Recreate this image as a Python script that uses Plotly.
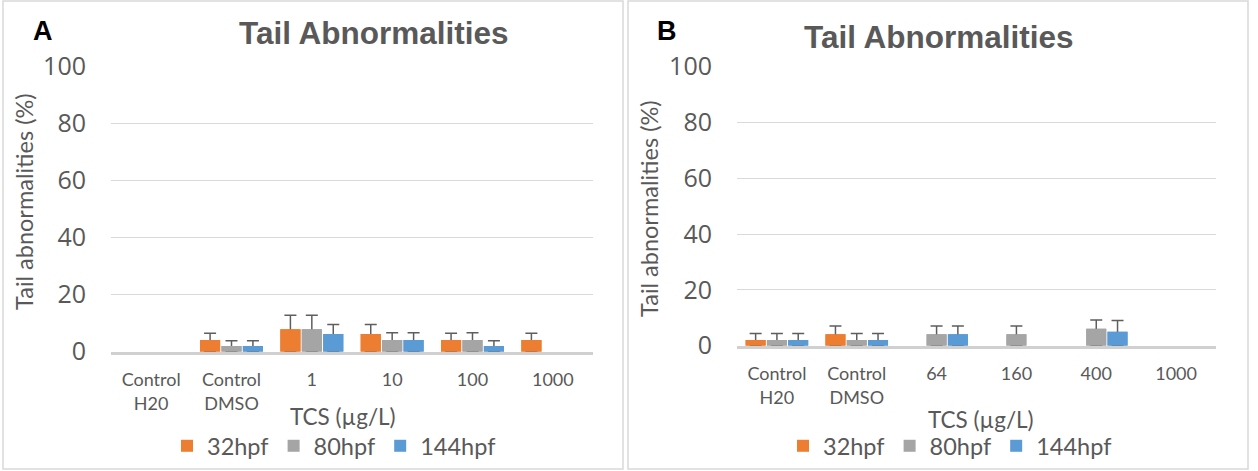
import plotly.graph_objects as go

W, H = 1258, 471

# ---------------- data ----------------
categories_a = ["Control<br>H20", "Control<br>DMSO", "1", "10", "100", "1000"]
categories_b = ["Control<br>H20", "Control<br>DMSO", "64", "160", "400", "1000"]
series_names = ["32hpf", "80hpf", "144hpf"]
series_colors = ["#ED7D31", "#A5A5A5", "#5B9BD5"]

a_32hpf = [0, 4.1, 7.9, 6.2, 4.1, 4.1]
a_32hpf_err = [None, 2.4, 4.9, 3.3, 2.4, 2.4]
a_80hpf = [0, 2.0, 7.9, 4.1, 4.1, 0]
a_80hpf_err = [None, 1.8, 4.9, 2.5, 2.5, None]
a_144hpf = [0, 2.0, 6.2, 4.1, 2.0, 0]
a_144hpf_err = [None, 1.8, 3.3, 2.5, 1.8, None]

b_32hpf = [2.0, 4.1, 0, 0, 0, 0]
b_32hpf_err = [2.4, 3.0, None, None, None, None]
b_80hpf = [2.0, 2.0, 4.1, 4.1, 6.1, 0]
b_80hpf_err = [2.4, 2.4, 3.0, 3.0, 3.1, None]
b_144hpf = [2.0, 2.0, 4.1, 0, 5.0, 0]
b_144hpf_err = [2.4, 2.4, 3.0, None, 4.0, None]

y_ticks = [0, 20, 40, 60, 80, 100]

panel_title = "Tail Abnormalities"
y_title = "Tail abnormalities (%)"
x_title = "TCS (µg/L)"

# ---------------- helpers ----------------
def px_x(x):
    return x / W

def px_y(y):
    return 1 - y / H

FONT = "Lato, 'Open Sans', sans-serif"
NFONT = "'Open Sans', Lato, sans-serif"
TFONT = "Liberation Sans, Arial, sans-serif"
TXT = "#595959"
ERR = "#5E5E5E"

fig = go.Figure()

panels = [
    ("a", categories_a, [(a_32hpf, a_32hpf_err), (a_80hpf, a_80hpf_err), (a_144hpf, a_144hpf_err)],
     "x", "y", "legend"),
    ("b", categories_b, [(b_32hpf, b_32hpf_err), (b_80hpf, b_80hpf_err), (b_144hpf, b_144hpf_err)],
     "x2", "y2", "legend2"),
]

for key, cats, series, xa, ya, leg in panels:
    for (vals, errs), name, color in zip(series, series_names, series_colors):
        grp = key + name
        # error-bar carrier (drawn first; the real bars drawn on top hide the part inside the bar)
        ex = [c for c, e in zip(cats, errs) if e is not None]
        ey = [v for v, e in zip(vals, errs) if e is not None]
        ee = [e for e in errs if e is not None]
        fig.add_trace(go.Bar(
            x=ex, y=ey, xaxis=xa, yaxis=ya, offsetgroup=grp,
            marker=dict(color=color, line=dict(width=0)),
            error_y=dict(type="data", symmetric=False, array=ee, arrayminus=ey,
                         color=ERR, thickness=1.5, width=6),
            showlegend=False, hoverinfo="skip", legend=leg,
        ))
        fig.add_trace(go.Bar(
            x=cats, y=vals, xaxis=xa, yaxis=ya, offsetgroup=grp, name=name,
            marker=dict(color=color, line=dict(width=0)),
            legend=leg,
        ))

axis_common_y = dict(
    range=[0, 100], tickvals=y_ticks, showgrid=True, gridcolor="#D9D9D9", gridwidth=1,
    zeroline=False, showline=False, ticks="", ticklabelstandoff=24,
    tickfont=dict(family=NFONT, size=25, color=TXT), automargin=False, fixedrange=True,
)
axis_common_x = dict(
    type="category", showgrid=False, zeroline=False, showline=True,
    linecolor="#D0D0D0", linewidth=3, ticks="", ticklabelstandoff=10,
    tickfont=dict(family=FONT, size=18, color=TXT), automargin=False, fixedrange=True,
)

legend_common = dict(orientation="h", xanchor="center", yanchor="middle",
                     font=dict(family=FONT, size=23.5, color=TXT), bgcolor="rgba(0,0,0,0)",
                     itemclick=False, itemdoubleclick=False)

fig.update_layout(
    width=W, height=H,
    margin=dict(l=0, r=0, t=0, b=0),
    paper_bgcolor="white", plot_bgcolor="white",
    barmode="group", bargap=0.2, bargroupgap=0.06,
    xaxis=dict(domain=[px_x(111), px_x(593)], anchor="y",
               categoryorder="array", categoryarray=categories_a, **axis_common_x),
    yaxis=dict(domain=[px_y(351.7), px_y(66)], anchor="x", **axis_common_y),
    xaxis2=dict(domain=[px_x(737), px_x(1216)], anchor="y2",
                categoryorder="array", categoryarray=categories_b, **axis_common_x),
    yaxis2=dict(domain=[px_y(345.7), px_y(66.7)], anchor="x2", **axis_common_y),
    legend=dict(x=px_x(334), y=px_y(446), **legend_common),
    legend2=dict(x=px_x(950), y=px_y(446), **legend_common),
    showlegend=True,
)

shapes = []
for x0, x1 in [(3, 623), (628, 1248)]:
    shapes.append(dict(type="rect", xref="paper", yref="paper",
                       x0=px_x(x0), x1=px_x(x1), y0=px_y(469), y1=px_y(1),
                       line=dict(color="#D9D9D9", width=1.5), fillcolor="rgba(0,0,0,0)", layer="below"))
fig.update_layout(shapes=shapes)

def add_text(text, x, y, size, color=TXT, family=FONT, angle=0):
    return dict(text=text, x=px_x(x), y=px_y(y), xref="paper", yref="paper",
                showarrow=False, xanchor="center", yanchor="middle", textangle=angle,
                font=dict(family=family, size=size, color=color))

ann = [
    add_text("<b>" + panel_title + "</b>", 374, 33, 31.5, family=TFONT),
    add_text("<b>" + panel_title + "</b>", 939, 37.5, 31.5, family=TFONT),
    add_text("<b>A</b>", 43, 31, 27, color="black", family=TFONT),
    add_text("<b>B</b>", 667, 31, 27, color="black", family=TFONT),
    add_text(y_title, 24, 202, 23.5, angle=-90),
    add_text(y_title, 649, 209, 23.5, angle=-90),
    add_text(x_title, 343, 416, 22.5),
    add_text(x_title, 981, 419, 22.5),
]
fig.update_layout(annotations=ann)

fig.write_html("out.html")
